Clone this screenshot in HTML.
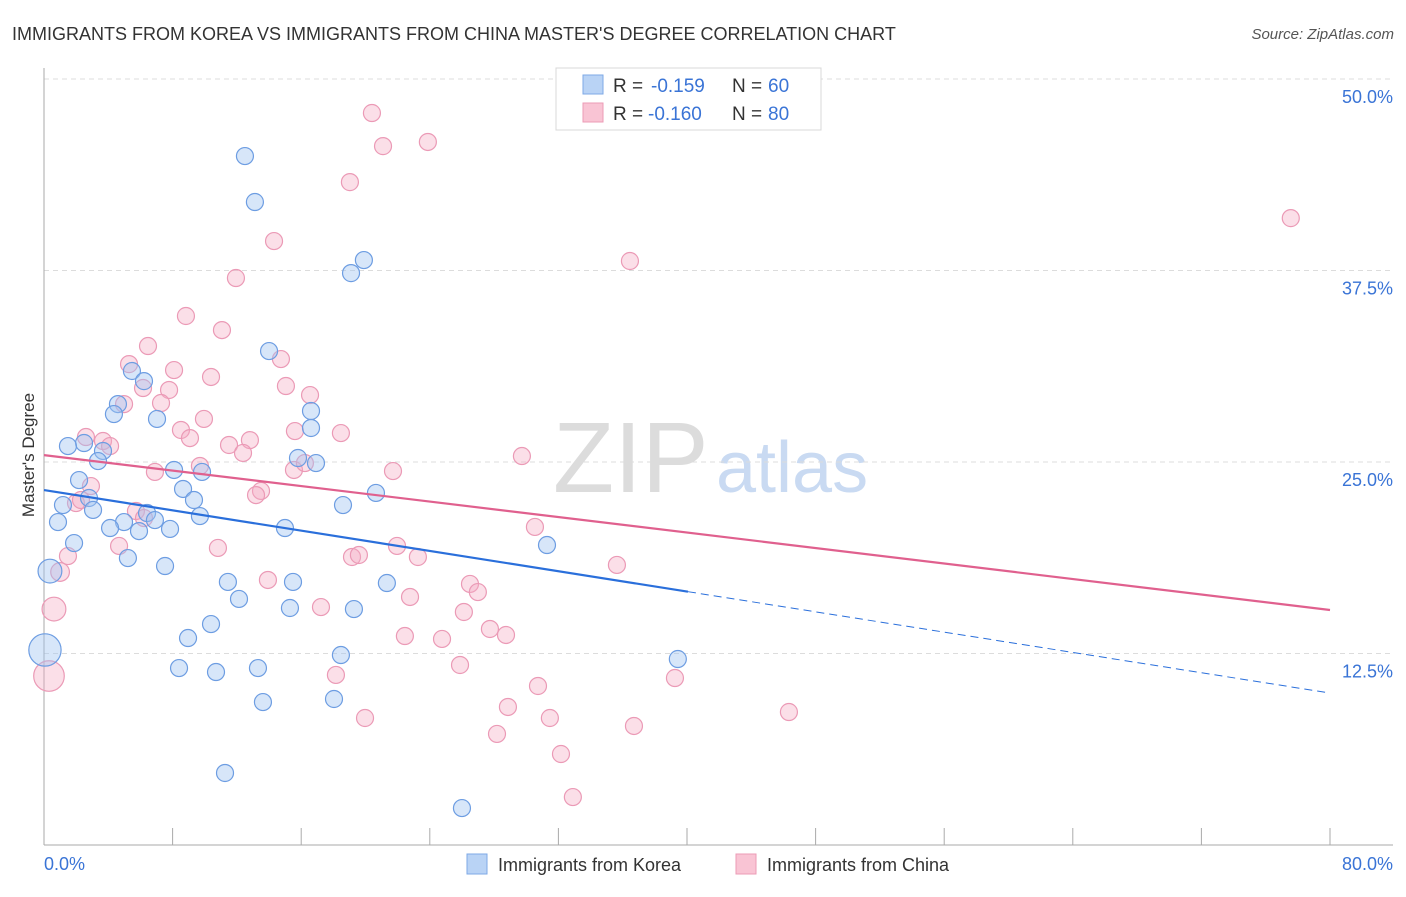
<!DOCTYPE html>
<html><head><meta charset="utf-8"><style>
body{margin:0;background:#fff;font-family:"Liberation Sans",sans-serif;}
svg text{font-family:"Liberation Sans",sans-serif;}
</style></head><body>
<svg id="chart" width="1406" height="892" viewBox="0 0 1406 892" xmlns="http://www.w3.org/2000/svg">
<text x="12" y="40" font-size="18" fill="#333">IMMIGRANTS FROM KOREA VS IMMIGRANTS FROM CHINA MASTER'S DEGREE CORRELATION CHART</text>
<text x="1394" y="39" font-size="15" fill="#555" font-style="italic" text-anchor="end">Source: ZipAtlas.com</text>
<g>
<text x="553" y="492" font-size="100" font-family="Liberation Serif" fill="#dcdcdc">ZIP</text>
<text x="716" y="492" font-size="72" fill="#c9daf2">atlas</text>
</g>
<g id="grid"></g>
<g id="axes"></g>
<text transform="translate(34,455) rotate(-90)" font-size="17" fill="#333" text-anchor="middle">Master's Degree</text>
<g id="pts"></g>
<g id="lines"></g>
<g>
<rect x="556" y="68" width="265" height="62" fill="#fff" stroke="#d8d8d8"/>
<rect x="583" y="75" width="20" height="19" fill="#b9d3f5" stroke="#7ea8e6"/>
<rect x="583" y="103" width="20" height="19" fill="#f9c4d4" stroke="#ec9bb6"/>
<text x="613" y="92" font-size="19" fill="#333">R = </text><text x="651" y="92" font-size="19" fill="#3a74d6">-0.159</text>
<text x="732" y="92" font-size="19" fill="#333">N = </text><text x="768" y="92" font-size="19" fill="#3a74d6">60</text>
<text x="613" y="120" font-size="19" fill="#333">R = </text><text x="648" y="120" font-size="19" fill="#3a74d6">-0.160</text>
<text x="732" y="120" font-size="19" fill="#333">N = </text><text x="768" y="120" font-size="19" fill="#3a74d6">80</text>
</g>
<g>
<rect x="467" y="854" width="20" height="20" fill="#b9d3f5" stroke="#7ea8e6"/>
<text x="498" y="871" font-size="18" fill="#333">Immigrants from Korea</text>
<rect x="736" y="854" width="20" height="20" fill="#f9c4d4" stroke="#ec9bb6"/>
<text x="767" y="871" font-size="18" fill="#333">Immigrants from China</text>
</g>
</svg>
<script>
const yTicks=[12.5,25,37.5,50];
const yTickLabels=["12.5%","25.0%","37.5%","50.0%"];
const xTickVals=[0,8,16,24,32,40,48,56,64,72,80];
const xEndLabels=["0.0%","80.0%"];
const koreaX=[12.50,13.12,19.90,19.10,14.00,5.47,6.22,4.60,4.35,7.03,16.61,16.61,2.49,1.49,3.67,3.36,8.09,9.83,16.92,15.80,2.18,8.65,20.65,2.80,9.33,1.18,3.05,18.60,6.41,9.70,4.98,6.90,0.87,4.11,5.91,7.84,14.99,1.87,31.29,5.22,0.37,7.53,11.44,15.49,21.33,12.13,10.39,15.30,19.28,8.96,18.47,0.06,39.43,8.40,10.70,13.31,18.04,13.62,11.26,26.00];
const koreaY=[44.97,41.97,38.18,37.33,32.24,30.94,30.28,28.78,28.13,27.81,28.33,27.22,26.24,26.04,25.72,25.06,24.48,24.35,24.93,25.26,23.82,23.24,22.98,22.65,22.52,22.19,21.87,22.19,21.67,21.47,21.08,21.21,21.08,20.69,20.49,20.63,20.69,19.71,19.58,18.73,17.88,18.21,17.17,17.17,17.10,16.06,14.42,15.47,15.40,13.51,12.40,12.73,12.14,11.55,11.29,11.55,9.53,9.33,4.70,2.41];
const koreaSize=[1,1,1,1,1,1,1,1,1,1,1,1,1,1,1,1,1,1,1,1,1,1,1,1,1,1,1,1,1,1,1,1,1,1,1,1,1,1,1,1,1.4,1,1,1,1,1,1,1,1,1,1,1.9,1,1,1,1,1,1,1,1];
const chinaX=[20.40,21.09,23.88,19.03,77.56,14.31,36.45,11.94,8.83,11.07,6.47,5.29,14.74,8.09,10.39,6.16,15.05,7.78,16.55,7.28,4.98,9.95,8.52,15.61,18.47,9.08,2.61,3.67,12.81,4.11,11.51,12.38,29.73,9.70,6.90,21.71,15.55,16.23,2.92,13.50,13.19,1.99,2.30,5.72,30.54,6.22,4.67,10.82,21.96,1.49,19.16,19.59,23.26,35.64,1.00,13.93,26.50,26.99,22.77,0.62,17.23,26.12,27.74,22.45,24.76,28.74,25.88,18.16,39.25,0.31,30.73,28.86,46.34,19.97,31.47,36.70,28.18,32.16,32.90];
const chinaY=[47.78,45.62,45.89,43.27,40.92,39.42,38.12,37.01,34.53,33.61,32.57,31.39,31.72,31.00,30.55,29.83,29.96,29.70,29.37,28.85,28.78,27.81,27.09,27.02,26.89,26.56,26.63,26.37,26.43,26.04,26.11,25.59,25.39,24.74,24.35,24.41,24.48,24.93,23.43,23.11,22.84,22.32,22.52,21.80,20.76,21.34,19.52,19.39,19.52,18.86,18.80,18.93,18.80,18.28,17.82,17.30,17.04,16.51,16.19,15.40,15.53,15.21,14.10,13.64,13.45,13.71,11.75,11.10,10.90,11.03,10.38,9.01,8.68,8.29,8.29,7.77,7.25,5.94,3.13];
const chinaSize=[1,1,1,1,1,1,1,1,1,1,1,1,1,1,1,1,1,1,1,1,1,1,1,1,1,1,1,1,1,1,1,1,1,1,1,1,1,1,1,1,1,1,1,1,1,1,1,1,1,1,1,1,1,1,1.1,1,1,1,1,1.4,1,1,1,1,1,1,1,1,1,1.8,1,1,1,1,1,1,1,1,1];
const koreaTrend=[23.17,9.92];
const koreaSolidEnd=40.06;
const chinaTrend=[25.45,15.34];

const NS="http://www.w3.org/2000/svg";
const X0=44,X1=1330,Y0=845,PXPER=15.32;
function sx(v){return X0+(v/80)*(X1-X0);}
function sy(v){return Y0-v*PXPER;}
function mk(tag,attrs,parent){const e=document.createElementNS(NS,tag);for(const k in attrs)e.setAttribute(k,attrs[k]);parent.appendChild(e);return e;}
const grid=document.getElementById('grid'),axes=document.getElementById('axes');
yTicks.forEach((t,i)=>{
 const l=mk('line',{x1:X0,x2:1393,y1:sy(t),y2:sy(t),stroke:'#dcdcdc','stroke-dasharray':'5,4'},grid);
 
 
 const tx=mk('text',{x:1393,y:sy(t)+24,'font-size':18,fill:'#3a74d6','text-anchor':'end'},grid);
 tx.textContent=yTickLabels[i];
 
 
});
const xa=mk('line',{x1:X0,x2:1393,y1:Y0,y2:Y0,stroke:'#aaa'},axes);


const ya=mk('line',{x1:X0,x2:X0,y1:68,y2:Y0,stroke:'#aaa'},axes);


xTickVals.forEach(v=>{
 const t=mk('line',{x1:sx(v),x2:sx(v),y1:828,y2:Y0,stroke:'#aaa'},axes);
 
 
});
const xl0=mk('text',{x:44,y:870,'font-size':18,fill:'#3a74d6'},axes);xl0.textContent=xEndLabels[0];


const xl1=mk('text',{x:1393,y:870,'font-size':18,fill:'#3a74d6','text-anchor':'end'},axes);xl1.textContent=xEndLabels[1];


const pts=document.getElementById('pts');
chinaX.forEach((v,i)=>{
 const c=mk('circle',{cx:sx(v),cy:sy(chinaY[i]),r:8.5*chinaSize[i],fill:'rgba(244,170,195,0.38)',stroke:'#eb9ab6','stroke-width':1.2},pts);
 
 
});
koreaX.forEach((v,i)=>{
 const c=mk('circle',{cx:sx(v),cy:sy(koreaY[i]),r:8.5*koreaSize[i],fill:'rgba(160,196,240,0.42)',stroke:'#6d9de2','stroke-width':1.2},pts);
 
 
});
const lines=document.getElementById('lines');
function ty(tr,x){return tr[0]+(tr[1]-tr[0])*x/80;}
const cl=mk('line',{x1:sx(0),y1:sy(chinaTrend[0]),x2:sx(80),y2:sy(chinaTrend[1]),stroke:'#e0608e','stroke-width':2.2},lines);


const kl=mk('line',{x1:sx(0),y1:sy(koreaTrend[0]),x2:sx(koreaSolidEnd),y2:sy(ty(koreaTrend,koreaSolidEnd)),stroke:'#2a6fdb','stroke-width':2.2},lines);


const kd=mk('line',{x1:sx(koreaSolidEnd),y1:sy(ty(koreaTrend,koreaSolidEnd)),x2:sx(80),y2:sy(koreaTrend[1]),stroke:'#2a6fdb','stroke-width':1,'stroke-dasharray':'8,5'},lines);


</script>
</body></html>
